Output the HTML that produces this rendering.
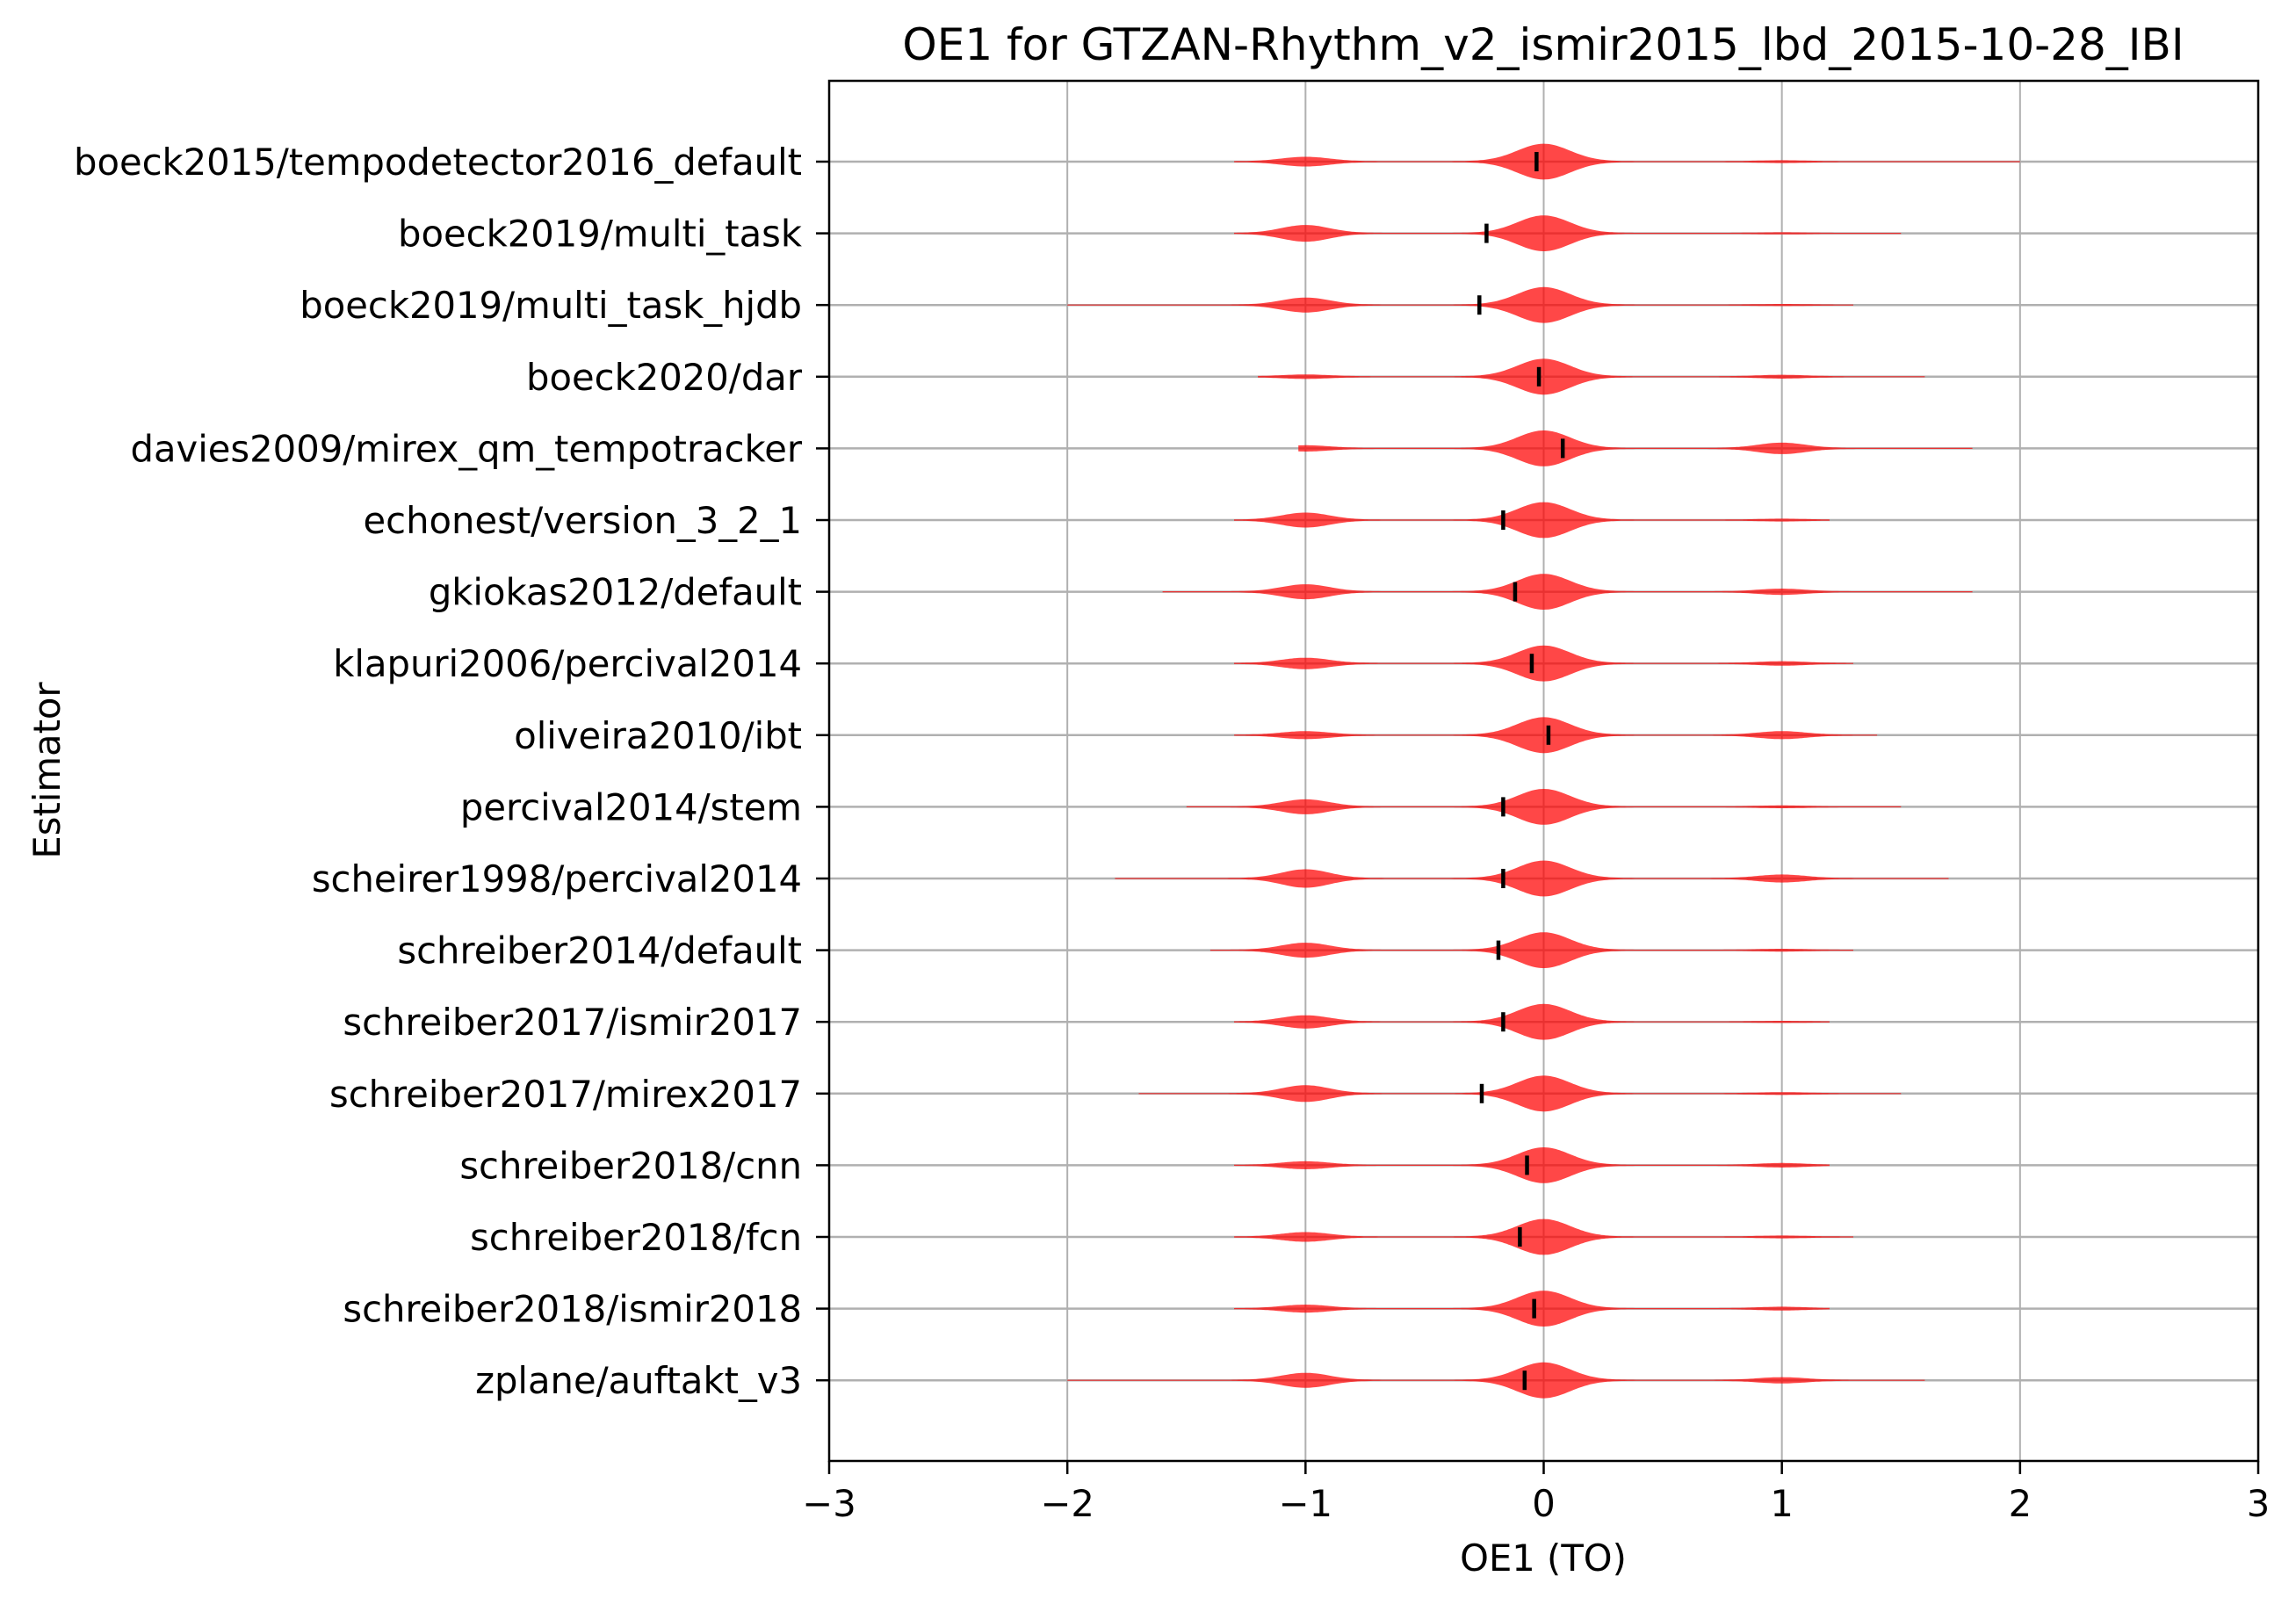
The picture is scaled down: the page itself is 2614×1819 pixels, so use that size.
<!DOCTYPE html>
<html><head><meta charset="utf-8"><style>
html,body{margin:0;padding:0;background:#fff;}
svg{display:block;font-family:"DejaVu Sans","Liberation Sans",sans-serif;}
</style></head><body>
<svg id="chart" width="2614" height="1819" viewBox="0 0 2614 1819" xmlns="http://www.w3.org/2000/svg">
<rect width="2614" height="1819" fill="#fff"/>
<g id="grid"></g>
<g id="violins"></g>
<g id="axes"></g>
<text x="1757" y="68" font-size="50" text-anchor="middle">OE1 for GTZAN-Rhythm_v2_ismir2015_lbd_2015-10-28_IBI</text>
<text x="1757" y="1788" font-size="41.7" text-anchor="middle">OE1 (TO)</text>
<text x="0" y="0" font-size="41.7" text-anchor="middle" transform="translate(68,877) rotate(-90)">Estimator</text>
</svg>
<script>
const categories = ["boeck2015/tempodetector2016_default","boeck2019/multi_task","boeck2019/multi_task_hjdb","boeck2020/dar","davies2009/mirex_qm_tempotracker","echonest/version_3_2_1","gkiokas2012/default","klapuri2006/percival2014","oliveira2010/ibt","percival2014/stem","scheirer1998/percival2014","schreiber2014/default","schreiber2017/ismir2017","schreiber2017/mirex2017","schreiber2018/cnn","schreiber2018/fcn","schreiber2018/ismir2018","zplane/auftakt_v3"];
const negWeight = [0.25,0.45,0.4,0.1,0.15,0.4,0.4,0.3,0.2,0.4,0.5,0.4,0.35,0.45,0.2,0.25,0.2,0.4];
const posWeight = [0.05,0.03,0.03,0.08,0.3,0.05,0.15,0.1,0.2,0.05,0.2,0.05,0.03,0.05,0.1,0.05,0.08,0.15];
const minVal = [-1.3,-1.3,-2.0,-1.2,-1.03,-1.3,-1.6,-1.3,-1.3,-1.5,-1.8,-1.4,-1.3,-1.7,-1.3,-1.3,-1.3,-2.0];
const maxVal = [2.0,1.5,1.3,1.6,1.8,1.2,1.8,1.3,1.4,1.5,1.7,1.3,1.2,1.5,1.2,1.3,1.2,1.6];
const meanVal = [-0.03,-0.24,-0.27,-0.02,0.08,-0.17,-0.12,-0.05,0.02,-0.17,-0.17,-0.19,-0.17,-0.26,-0.07,-0.1,-0.04,-0.08];
const xTicks = [-3,-2,-1,0,1,2,3];
const xTickLabels = ["\u22123","\u22122","\u22121","0","1","2","3"];

const NS="http://www.w3.org/2000/svg";
const L=944,R=2571,T=92,B=1663;
const x=v=>L+(v+3)/6*(R-L);
const y=i=>184+i*81.6;
function mk(tag,attrs,parent){const e=document.createElementNS(NS,tag);for(const k in attrs)e.setAttribute(k,attrs[k]);parent.appendChild(e);return e;}
const grid=document.getElementById('grid'),vg=document.getElementById('violins'),ax=document.getElementById('axes');
xTicks.forEach((t,i)=>{
  const gl=mk('line',{x1:x(t),x2:x(t),y1:T,y2:B,stroke:'#b0b0b0','stroke-width':2},grid);
  
  
  const tk=mk('line',{x1:x(t),x2:x(t),y1:B,y2:B+15,stroke:'#000','stroke-width':2.5},ax);
  
  
  const tl=mk('text',{x:x(t),y:B+63,'font-size':41.7,'text-anchor':'middle'},ax);
  tl.textContent=xTickLabels[i];
  
  
});
categories.forEach((c,i)=>{
  const gl=mk('line',{x1:L,x2:R,y1:y(i),y2:y(i),stroke:'#b0b0b0','stroke-width':2.5},grid);
  
  
  const tk=mk('line',{x1:L-15,x2:L,y1:y(i),y2:y(i),stroke:'#000','stroke-width':2.5},ax);
  
  
  const tl=mk('text',{x:L-31,y:y(i)+15,'font-size':41.7,'text-anchor':'end'},ax);
  tl.textContent=c;
  
  
  const lo=minVal[i],hi=maxVal[i],n=300;
  const dens=v=>Math.exp(-v*v/(2*0.11*0.11))+negWeight[i]*Math.exp(-(v+1)*(v+1)/(2*0.1*0.1))+posWeight[i]*Math.exp(-(v-1)*(v-1)/(2*0.1*0.1))+0.03;
  let mx=0;const ds=[];
  for(let k=0;k<=n;k++){const v=lo+(hi-lo)*k/n;const d=dens(v);ds.push([v,d]);if(d>mx)mx=d;}
  const hw=20.4;
  const top=ds.map(([v,d])=>x(v).toFixed(1)+','+(y(i)-d/mx*hw).toFixed(1));
  const bot=ds.slice().reverse().map(([v,d])=>x(v).toFixed(1)+','+(y(i)+d/mx*hw).toFixed(1));
  const p=mk('polygon',{points:top.concat(bot).join(' '),fill:'#ff0000','fill-opacity':0.72},vg);
  
  
  const m=mk('line',{x1:x(meanVal[i]),x2:x(meanVal[i]),y1:y(i)-11,y2:y(i)+11,stroke:'#000','stroke-width':4.5},vg);
  
  
});
const fr=mk('rect',{x:L,y:T,width:R-L,height:B-T,fill:'none',stroke:'#000','stroke-width':2.5},ax);


</script>
</body></html>
